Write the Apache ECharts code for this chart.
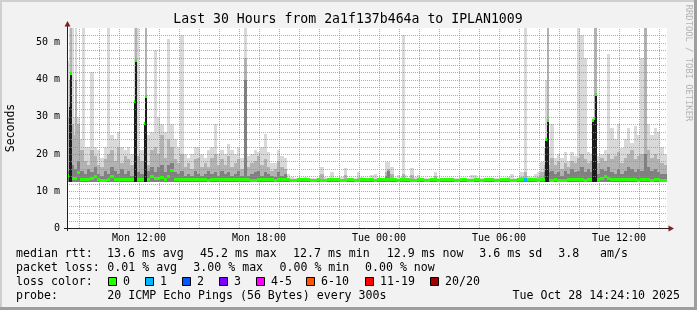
<!DOCTYPE html>
<html><head><meta charset="utf-8">
<script src="https://cdn.jsdelivr.net/npm/echarts@6/dist/echarts.min.js"></script>
<style>html,body{margin:0;padding:0;background:#f2f2f2}#c{width:697px;height:310px}</style>
</head><body><div id="c"></div>
<script>
// ---- time frame (minutes since Mon 00:00) ----
const startMin = 504;   // Mon 08:24
const endMin = 2304;    // Tue 14:24
const binMin = 10;      // each entry = 10 minutes; [a,b] = two 5-minute halves
const minRtt = 12.3;    // bottom of the smoke (ms)
const yMax = 54;

const tickTimes = [720, 1080, 1440, 1800, 2160];
const tickLabels = ['Mon 12:00', 'Mon 18:00', 'Tue 00:00', 'Tue 06:00', 'Tue 12:00'];
const yTicks = [0, 10, 20, 30, 40, 50];

// median rtt per bin (ms)
const medianRtt = [
  [14.1,33],[41.7,13.5],13.3,15.0,13.0,13.0,13.2,13.5,14.0,13.0,
  12.8,12.8,13.0,13.8,13.0,13.0,13.0,13.1,13.0,13.0,
  [34.1,45.2],13.2,13.0,[28.2,35.4],13.0,14.0,13.3,13.5,13.6,13.2,
  14.0,15.5,13.0,13.0,13.0,13.2,13.0,13.0,13.0,13.0,
  13.0,13.0,12.8,13.0,13.0,13.0,13.0,13.0,13.0,13.0,
  13.0,13.0,13.0,13.0,13.0,12.8,12.8,13.0,13.0,13.0,
  13.0,13.0,12.8,13.0,13.0,13.0,13.0,12.9,12.9,13.0,
  13.0,13.1,13.0,12.9,12.9,13.0,12.8,12.9,13.0,13.0,
  13.1,13.0,12.9,12.9,13.0,13.0,12.8,12.8,13.0,13.0,
  13.0,13.0,12.9,13.0,13.0,13.0,13.1,13.0,13.0,12.9,
  13.0,13.0,13.0,12.9,12.9,13.0,13.0,12.9,12.9,13.0,
  13.0,12.9,13.0,13.0,13.0,13.0,12.9,12.9,13.0,13.0,
  12.8,12.8,13.0,13.0,12.9,13.0,13.0,13.0,12.9,12.9,
  13.0,13.0,13.0,12.9,12.9,13.0,13.0,13.0,13.0,13.0,
  13.0,12.9,13.0,[13.0,24.0],[29.0,13.0],12.8,13.0,12.9,12.8,12.8,
  13.0,13.0,13.0,13.0,13.0,12.9,13.0,[13.0,29.0],[29.5,36.1],13.0,
  13.5,13.8,13.5,13.2,13.0,13.0,13.0,13.0,13.0,13.0,
  13.0,12.9,13.0,13.0,13.0,12.9,13.0,13.0,12.9,12.9
];
// highest ping per bin (lightest smoke)
const smokeMax = [
  [45,54],54,[30,54],30,[24,54],[54,22],22,42,22,21,
  19,22,54,25,24,26,22,21,22,20,
  54,[54,21],21,[22,54],25,26,48,30,28,26,
  51,28,24,22,52,20,19,20,22,22,
  20,19,21,22,28,20,21,20,22.7,21,
  20,22,19,54,19.5,20,21,20.5,22,25.5,
  20.5,17.5,17.5,21,19.5,19,14.5,13.8,13.6,13.6,
  13.6,13.8,13.6,13.6,13.6,13.6,16.5,13.8,13.6,15.0,
  13.6,13.6,13.8,16.3,13.6,13.6,13.6,15.0,13.8,13.6,
  13.6,14.2,14.5,13.6,13.6,[13.6,17.7],17.7,16.4,13.6,14.2,
  [13.8,52],[52,14.2],13.6,16.3,13.8,14.2,13.6,13.6,13.6,13.6,
  15.0,13.6,13.6,13.6,13.6,13.6,13.6,13.6,13.6,13.6,
  13.6,14.2,14.2,13.6,13.6,13.6,13.6,13.6,13.6,13.6,
  13.6,13.6,13.8,14.5,13.6,13.6,15.0,54,14.0,13.8,
  14.5,15.0,17.7,[21.5,40],[54,22],28,19,20,19,20.5,
  18,20.5,19.5,54,52,46,20.5,[20,30],54,19.5,
  20,21,47,27,24,28,21.5,24,27,23,
  27.5,25,45.8,54,28,25,27,26,22,20
];
// upper edge of the middle smoke band
const smokeMid = [
  [30,40],[54,28],[25,40],28,21,18,17,21,19.5,17,
  16.5,18.5,20,21,18,22,17.5,19.5,18.5,17,
  [20,54],19.5,18,[20,54],17,21,22,20,25,19,
  24,22,18.5,17.5,20,16.5,17.5,16,18.5,19,
  16.5,17.5,16.5,19,20,17,18.5,17,19.5,16.5,
  17.5,18.5,16,46,16.5,17.5,18,19.5,17,18.5,
  16.5,15.5,16,18,16.5,16,13.6,13.3,13.3,13.3,
  13.3,13.3,13.3,13.3,13.3,13.3,14.5,13.3,13.3,13.6,
  13.3,13.3,13.3,14.2,13.3,13.3,13.3,13.6,13.3,13.3,
  13.3,13.3,13.3,13.3,13.3,[13.3,15],16,14.5,13.3,13.3,
  [13.3,14.5],[14.5,13.3],13.3,14.2,13.3,13.3,13.3,13.3,13.3,13.3,
  14.0,13.3,13.3,13.3,13.3,13.3,13.3,13.3,13.3,13.3,
  13.3,13.3,13.3,13.3,13.3,13.3,13.3,13.3,13.3,13.3,
  13.3,13.3,13.3,13.3,13.3,13.3,13.8,15,13.5,13.3,
  13.5,13.8,15,[17,24],[54,17],19,17,18,16,17.5,
  16.5,18,17.5,19,20,18.5,17.5,[18,29],54,17.5,
  19,18,20,18.5,19.5,20.5,17.5,19,20,21,
  18.5,19.5,20,54,21,19,20,18.5,17.5,17
];
// upper edge of the dark smoke band
const smokeDark = [
  [15.5,20],[20,17],16,18,15.5,14.5,16,15,16.5,14.5,
  14,15.5,14.5,16.5,15.5,14.5,16,14.5,15.5,14,
  16,15,14.5,16,15.5,16.5,15,16.5,17,15,
  17,17.5,15,14.5,15.5,14,14.5,14,15.5,14.5,
  14,14.5,15.5,14.5,15,14,15.5,14.5,15,14,
  14.5,15.5,14,40,14,14.5,15,15.5,14,15,
  14.5,14,13.8,15,14,14.5,13.2,13.1,13.1,13.1,
  13.1,13.1,13.1,13.1,13.1,13.1,13.1,13.1,13.1,13.1,
  13.1,13.1,13.1,13.1,13.1,13.1,13.1,13.1,13.1,13.1,
  13.1,13.1,13.1,13.1,13.1,[13.1,14],15.5,13.1,13.1,13.1,
  13.1,13.1,13.1,13.1,13.1,13.1,13.1,13.1,13.1,13.1,
  13.1,13.1,13.1,13.1,13.1,13.1,13.1,13.1,13.1,13.1,
  13.1,13.1,13.1,13.1,13.1,13.1,13.1,13.1,13.1,13.1,
  13.1,13.1,13.1,13.1,13.1,13.1,13.2,13.5,13.1,13.1,
  13.1,13.2,13.5,15,15,15.5,14.5,15,14,15.5,
  14.5,16,15,15.5,16.5,15,16,15,15,14.5,
  16,15.5,16.5,15,14.5,16,14.5,15.5,16.5,16,
  15,16,15.5,20,16.5,15.5,16,15,14.5,14.5
];
// near-black columns where all pings were high: [bin start minute, first half top, second half top]
const spikeCore = [
  [504, 0, 33.5], [514, 41.7, 0], [704, 34.1, 45.2], [734, 28.2, 35.4],
  [1934, 0, 24], [1944, 29, 0], [2074, 0, 29], [2084, 29.5, 36.1]
];
// lost pings: [bin start minute, pings lost of 20]
const lossEvents = [[1874, 1]];

const lossLabels = ['0', '1', '2', '3', '4-5', '6-10', '11-19', '20/20'];
const lossColors = ['#26ff00', '#00b8ff', '#0059ff', '#7e00ff', '#ff00ff', '#ff5500', '#ff0000', '#a10000'];
function lossColor(n) {
  if (n <= 0) return lossColors[0];
  if (n <= 3) return lossColors[n];
  if (n <= 5) return lossColors[4];
  if (n <= 10) return lossColors[5];
  if (n <= 19) return lossColors[6];
  return lossColors[7];
}

// ---- build segments ----
function val(arr, i, h) { const v = arr[i]; return Array.isArray(v) ? v[h] : v; }
const segs = [];
for (let i = 0; i < medianRtt.length; i++) {
  const t = startMin + i * binMin;
  const sp = spikeCore.find(s => s[0] === t);
  const ls = lossEvents.find(s => s[0] === t);
  for (let h = 0; h < 2; h++) {
    segs.push([t + h * binMin / 2, t + (h + 1) * binMin / 2,
      val(medianRtt, i, h), val(smokeMax, i, h), val(smokeMid, i, h), val(smokeDark, i, h),
      sp ? sp[1 + h] : 0, ls ? ls[1] : 0]);
  }
}
const vGrid = [];
for (let m = 540; m < endMin; m += 60) vGrid.push([m, 0]);
const hGrid = [];
for (let v = 2; v < yMax; v += 2) hGrid.push([startMin, v]);

const GRID = 'rgba(143,143,143,0.75)';
const MGRID = 'rgba(222,79,79,0.6)';
const MONO = '"DejaVu Sans Mono", monospace';

const chart = echarts.init(document.getElementById('c'), null, { renderer: 'canvas' });

const smokeColors = [[3, '#d9d9d9'], [4, '#b2b2b2'], [5, '#808080'], [6, '#1c1c1c']];

const graphics = [];
// frame shading
graphics.push({ type: 'rect', shape: { x: 0, y: 0, width: 697, height: 2 }, style: { fill: '#cfcfcf' }, silent: true });
graphics.push({ type: 'rect', shape: { x: 0, y: 0, width: 2, height: 310 }, style: { fill: '#cfcfcf' }, silent: true });
graphics.push({ type: 'rect', shape: { x: 0, y: 307, width: 697, height: 3 }, style: { fill: '#9e9e9e' }, silent: true });
graphics.push({ type: 'rect', shape: { x: 694, y: 0, width: 3, height: 310 }, style: { fill: '#9e9e9e' }, silent: true });
// axes
graphics.push({ type: 'line', z: 100, shape: { x1: 67.5, y1: 231, x2: 67.5, y2: 25 }, style: { stroke: '#1f1f1f', lineWidth: 1 }, silent: true });
graphics.push({ type: 'line', z: 100, shape: { x1: 64, y1: 228.5, x2: 669, y2: 228.5 }, style: { stroke: '#1f1f1f', lineWidth: 1 }, silent: true });
graphics.push({ type: 'polygon', z: 100, shape: { points: [[64.5, 26.5], [70.5, 26.5], [67.5, 21]] }, style: { fill: '#7f1f1f' }, silent: true });
graphics.push({ type: 'polygon', z: 100, shape: { points: [[668.5, 225.5], [668.5, 231.5], [674, 228.5]] }, style: { fill: '#7f1f1f' }, silent: true });
// texts
function txt(text, x, y, size, opts) {
  graphics.push(Object.assign({ type: 'text', z: 100, silent: true,
    style: Object.assign({ text, x, y, fontSize: size, fontFamily: MONO, fill: '#000', textAlign: 'left', textVerticalAlign: 'middle' }, opts || {}) }));
}
txt('Last 30 Hours from 2a1f137b464a to IPLAN1009', 348, 19.5, 13.2, { textAlign: 'center' });
graphics.push({ type: 'text', z: 100, silent: true, x: 11, y: 128, rotation: Math.PI / 2,
  style: { text: 'Seconds', x: 0, y: 0, fontSize: 11.5, fontFamily: MONO, fill: '#000', textAlign: 'center', textVerticalAlign: 'middle' } });
graphics.push({ type: 'text', z: 100, silent: true, x: 688, y: 63, rotation: -Math.PI / 2,
  style: { text: 'RRDTOOL / TOBI OETIKER', x: 0, y: 0, fontSize: 8.8, fontFamily: MONO, fill: '#b4b4b4', textAlign: 'center', textVerticalAlign: 'middle' } });

const FS = 11.6;
const statLines = [
  [254, [[16, 'median rtt:'], [107, '13.6 ms avg'], [200, '45.2 ms max'], [293, '12.7 ms min'], [386.7, '12.9 ms now'], [479.3, '3.6 ms sd'], [558.3, '3.8'], [600, 'am/s']]],
  [268.3, [[16, 'packet loss:'], [107.3, '0.01 % avg'], [193.3, '3.00 % max'], [279.5, '0.00 % min'], [365, '0.00 % now']]],
  [281.7, [[16, 'loss color:']]],
  [296, [[16, 'probe:'], [107.3, '20 ICMP Echo Pings (56 Bytes) every 300s']]]
];
statLines.forEach(([y, parts]) => parts.forEach(([x, s]) => txt(s, x, y, FS)));
txt('Tue Oct 28 14:24:10 2025', 680, 296, FS, { textAlign: 'right' });
const boxX = [108, 145, 182, 219, 256, 306, 365, 430];
lossLabels.forEach((l, k) => {
  graphics.push({ type: 'rect', z: 100, silent: true, shape: { x: boxX[k] + 0.5, y: 277.5, width: 8, height: 8 }, style: { fill: lossColors[k], stroke: '#000', lineWidth: 1 } });
  txt(l, boxX[k] + 15, 281.7, FS);
});

chart.setOption({
  animation: false,
  backgroundColor: '#f2f2f2',
  grid: { left: 67, top: 28, width: 600, height: 200, show: true, backgroundColor: '#ffffff', borderWidth: 0 },
  xAxis: {
    type: 'value', min: startMin, max: endMin,
    axisLine: { show: false }, axisTick: { show: false }, splitLine: { show: false },
    axisLabel: { customValues: tickTimes, margin: 5, fontFamily: MONO, fontSize: 10, color: '#000',
      formatter: v => { const k = tickTimes.indexOf(v); return k >= 0 ? tickLabels[k] : ''; } }
  },
  yAxis: {
    type: 'value', min: 0, max: yMax,
    axisLine: { show: false }, axisTick: { show: false }, splitLine: { show: false },
    axisLabel: { customValues: yTicks, margin: 7, fontFamily: MONO, fontSize: 10, color: '#000',
      formatter: v => yTicks.indexOf(v) < 0 ? '' : (v === 0 ? '0' : v + ' m') }
  },
  graphic: graphics,
  series: [
    {
      type: 'custom', name: 'smoke', z: 2, clip: true, silent: true,
      data: segs, encode: { x: [0, 1], y: [3] },
      renderItem(params, api) {
        const t0 = api.value(0), t1 = api.value(1);
        const x0 = Math.round(api.coord([t0, 0])[0]);
        const x1 = Math.round(api.coord([t1, 0])[0]);
        const yb = Math.round(api.coord([t0, minRtt])[1]);
        const children = [];
        smokeColors.forEach(([dim, color]) => {
          const v = api.value(dim);
          if (v > minRtt) {
            const yt = Math.round(api.coord([t0, Math.min(v, yMax)])[1]);
            children.push({ type: 'rect', shape: { x: x0, y: yt, width: x1 - x0, height: yb - yt }, style: { fill: color } });
          }
        });
        return { type: 'group', children };
      }
    },
    {
      type: 'custom', name: 'vgrid', z: 3, silent: true,
      data: vGrid, encode: { x: 0, y: 1 },
      renderItem(params, api) {
        const t = api.value(0);
        const x = Math.round(api.coord([t, 0])[0]) + 0.5;
        const y0 = api.coord([t, 0])[1], y1 = api.coord([t, yMax])[1];
        return { type: 'line', shape: { x1: x, y1: y0, x2: x, y2: y1 },
          style: { stroke: t % 180 === 0 ? MGRID : GRID, lineWidth: 1, lineDash: [1, 1] } };
      }
    },
    {
      type: 'custom', name: 'hgrid', z: 3, silent: true,
      data: hGrid, encode: { x: 0, y: 1 },
      renderItem(params, api) {
        const v = api.value(1);
        const y = Math.round(api.coord([startMin, v])[1]) + 0.5;
        const x0 = api.coord([startMin, v])[0], x1 = api.coord([endMin, v])[0];
        return { type: 'line', shape: { x1: x0, y1: y, x2: x1, y2: y },
          style: { stroke: v % 10 === 0 ? MGRID : GRID, lineWidth: 1, lineDash: [1, 1] } };
      }
    },
    {
      type: 'custom', name: 'median', z: 4, clip: true, silent: true,
      data: segs, encode: { x: [0, 1], y: [2] },
      renderItem(params, api) {
        const t0 = api.value(0), t1 = api.value(1);
        const x0 = Math.round(api.coord([t0, 0])[0]);
        const x1 = Math.round(api.coord([t1, 0])[0]);
        const yc = api.coord([t0, api.value(2)])[1];
        const y = Math.round(yc - 1.5);
        return { type: 'rect', shape: { x: x0, y, width: x1 - x0, height: 3 }, style: { fill: lossColor(api.value(7)) } };
      }
    }
  ]
});
</script></body></html>
